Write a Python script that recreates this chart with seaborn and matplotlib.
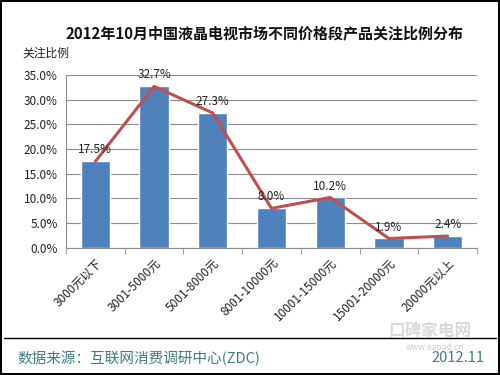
import numpy as np
import pandas as pd
import matplotlib.pyplot as plt
import seaborn as sns
from matplotlib.ticker import FixedLocator, PercentFormatter

categories = ['3000元以下', '3001-5000元', '5001-8000元', '8001-10000元',
              '10001-15000元', '15001-20000元', '20000元以上']
share = [17.5, 32.7, 27.3, 8.0, 10.2, 1.9, 2.4]

df = pd.DataFrame({'price': categories, 'share': share})

sns.set_style('white')
plt.rcParams['font.family'] = ['Noto Sans CJK SC', 'DejaVu Sans']

fig = plt.figure(figsize=(5, 3.75), dpi=100, linewidth=1.5, edgecolor='black')
ax = fig.add_axes([0.132, 0.339, 0.822, 0.461])

sns.barplot(data=df, x='price', y='share', color='#4F81BD', width=0.5,
            saturation=1, ax=ax, zorder=2)
sns.lineplot(data=df, x='price', y='share', color='#C0504D', linewidth=2.2,
             ax=ax, zorder=3, sort=False)

for i, v in enumerate(share):
    ax.text(i, v + 1.0, f'{v:.1f}%', ha='center', va='bottom', fontsize=8.5,
            color='#222222', zorder=4)

ax.set_ylim(0, 35)
ax.set_xlim(-0.5, len(categories) - 0.5)
ax.set_yticks(np.arange(0, 36, 5))
ax.yaxis.set_major_formatter(PercentFormatter(decimals=1))
ax.grid(axis='y', color='#8c8c8c', linewidth=0.8, zorder=0)
ax.set_xlabel('')
ax.set_ylabel('')
for s in ['top', 'right']:
    ax.spines[s].set_visible(False)
ax.spines['left'].set_color('#8c8c8c')
ax.spines['bottom'].set_color('#8c8c8c')

ax.tick_params(axis='y', labelsize=8.5, colors='#222222', length=0, pad=6)
ax.set_xticks(range(len(categories)))
ax.set_xticklabels(categories, rotation=45, ha='right', rotation_mode='anchor',
                   fontsize=8.5, color='#222222')
ax.tick_params(axis='x', which='major', length=0, pad=6)
ax.xaxis.set_minor_locator(FixedLocator(np.arange(-0.5, len(categories), 1)))
ax.tick_params(axis='x', which='minor', length=4, color='#8c8c8c', bottom=True)

fig.text(0.53, 0.912, '2012年10月中国液晶电视市场不同价格段产品关注比例分布',
         ha='center', va='center', fontsize=10.8, fontweight='bold', color='#111111')
fig.text(0.044, 0.858, '关注比例', ha='left', va='center', fontsize=8.5,
         color='#222222')

fig.text(0.86, 0.118, '口碑家电网', ha='center', va='center', fontsize=12,
         color='#d9d9d9', fontweight='bold')
fig.text(0.87, 0.072, 'www.eapad.cn', ha='center', va='center', fontsize=6,
         color='#cccccc')

fig.add_artist(plt.Line2D([0.008, 0.992], [0.099, 0.099], color='black',
                          linewidth=1, transform=fig.transFigure))
fig.text(0.034, 0.045, '数据来源：互联网消费调研中心(ZDC)', ha='left', va='center',
         fontsize=10.5, color='#3d7c80')
fig.text(0.968, 0.045, '2012.11', ha='right', va='center', fontsize=10.5,
         color='#3d7c80')

fig.savefig('out.png', dpi=100, edgecolor=fig.get_edgecolor())
